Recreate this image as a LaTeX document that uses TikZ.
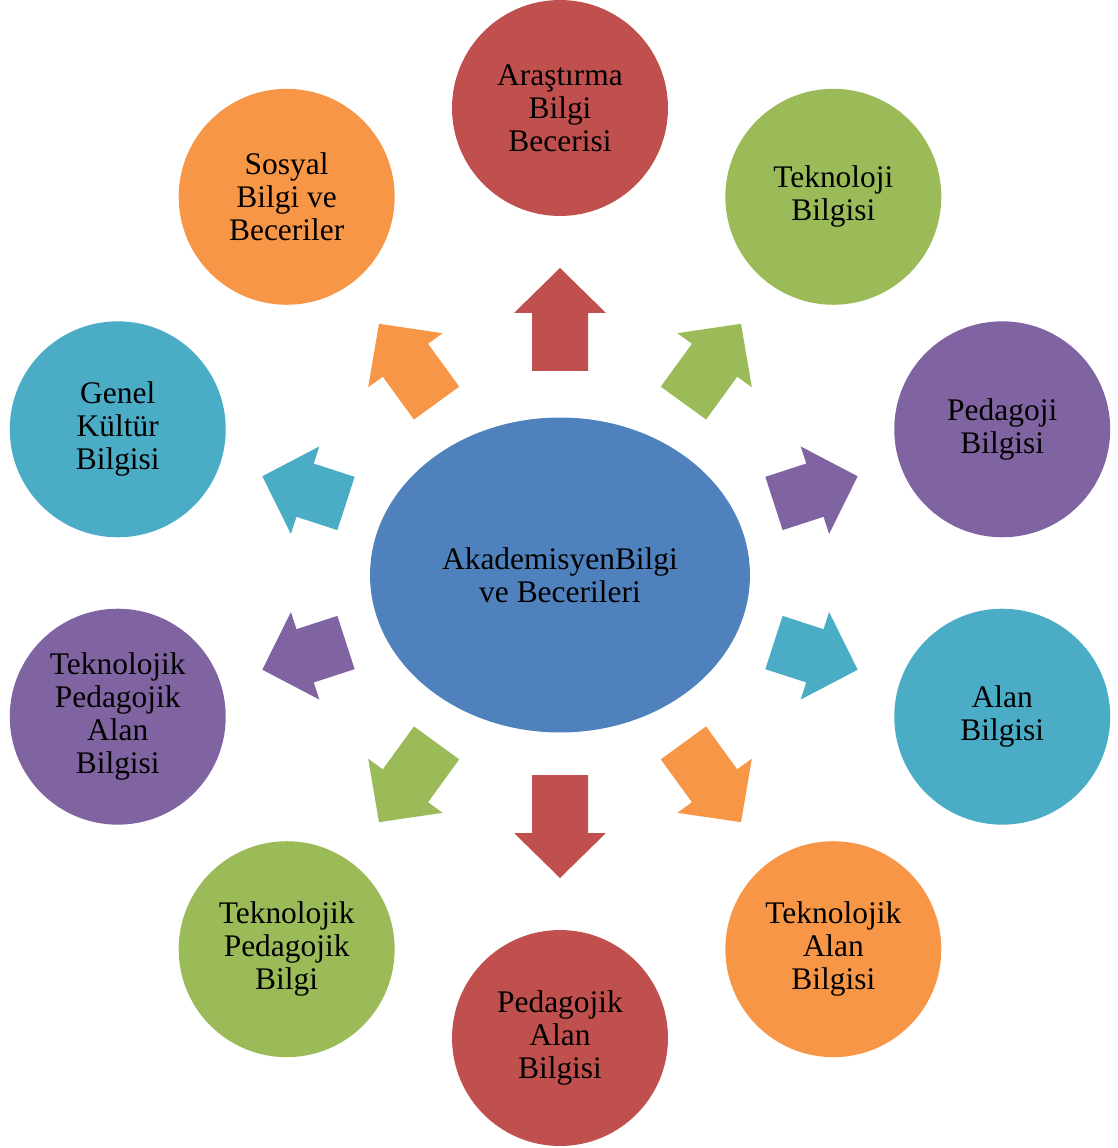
\documentclass[tikz,border=0pt]{standalone}
\usepackage{fontspec}
\setmainfont{Liberation Serif}
\usetikzlibrary{shapes.geometric}

\definecolor{akblue}{HTML}{4F81BD}
\definecolor{akred}{HTML}{C0504D}
\definecolor{akgreen}{HTML}{9BBB59}
\definecolor{akpurple}{HTML}{8064A2}
\definecolor{akteal}{HTML}{4BACC6}
\definecolor{akorange}{HTML}{F79646}

\tikzset{
  bubble/.style={circle, minimum size=4.32cm, inner sep=0pt, align=center,
    font=\fontsize{17.9}{18.8}\selectfont},
  hub/.style={ellipse, fill=akblue, minimum width=7.6cm, minimum height=6.3cm,
    inner sep=0pt, align=center, font=\fontsize{17.9}{18.8}\selectfont},
}

\begin{document}
\begin{tikzpicture}[x=0.02cm, y=0.02cm]
  % Frame
  \useasboundingbox (-560,-575) rectangle (557,573);

  % Centre
  \node[hub] (hub) at (0,-2) {AkademisyenBilgi\\ve Becerileri};

  % Circles
  \node[bubble, fill=akred]    (arastirma) at (90:465)  {Araştırma\\Bilgi\\Becerisi};
  \node[bubble, fill=akgreen]  (teknoloji) at (54:465)  {Teknoloji\\Bilgisi};
  \node[bubble, fill=akpurple] (pedagoji)  at (18:465)  {Pedagoji\\Bilgisi};
  \node[bubble, fill=akteal]   (alan)      at (-18:465) {Alan\\Bilgisi};
  \node[bubble, fill=akorange] (tab)       at (-54:465) {Teknolojik\\Alan\\Bilgisi};
  \node[bubble, fill=akred]    (pab)       at (-90:465) {Pedagojik\\Alan\\Bilgisi};
  \node[bubble, fill=akgreen]  (tpb)       at (234:465) {Teknolojik\\Pedagojik\\Bilgi};
  \node[bubble, fill=akpurple] (tpab)      at (198:465) {Teknolojik\\Pedagojik\\Alan\\Bilgisi};
  \node[bubble, fill=akteal]   (genel)     at (162:465) {Genel\\Kültür\\Bilgisi};
  \node[bubble, fill=akorange] (sosyal)    at (126:465) {Sosyal\\Bilgi ve\\Beceriler};

  % Block arrows
  \foreach \a/\rin/\rout/\c in {90/202/305/akred, 54/210/308/akgreen,
      18/225/313/akpurple, -18/225/313/akteal, -54/210/308/akorange,
      -90/202/305/akred, 234/210/308/akgreen, 198/225/313/akpurple,
      162/225/313/akteal, 126/210/308/akorange}
    \fill[fill=\c, rotate=\a] (\rin,-28) -- (\rout-45,-28) -- (\rout-45,-46)
      -- (\rout,0) -- (\rout-45,46) -- (\rout-45,28) -- (\rin,28) -- cycle;
\end{tikzpicture}
\end{document}
